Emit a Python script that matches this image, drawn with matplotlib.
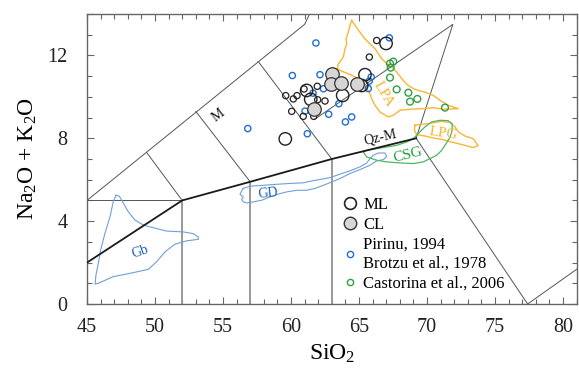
import matplotlib
matplotlib.use("Agg")
import matplotlib.pyplot as plt
from matplotlib.ticker import MultipleLocator
from matplotlib.lines import Line2D

plt.rcParams['font.family'] = ['Liberation Serif', 'DejaVu Serif']
plt.rcParams['mathtext.fontset'] = 'custom'
plt.rcParams['mathtext.rm'] = 'Liberation Serif'
plt.rcParams['mathtext.it'] = 'Liberation Serif:italic'

# ---------------- data ----------------
# TAS field boundaries (SiO2, Na2O+K2O)
thin_lines = [
    [(45, 5), (61, 13.5), (63, 16.2)],
    [(45, 5), (52, 5)],
    [(49.4, 7.3), (52, 5)],
    [(53, 9.3), (57, 5.9)],
    [(57.6, 11.7), (63, 7)],
    [(61.7, 8.9), (71.9, 13.5), (69.2, 8), (77.4, 0), (86, 4)],
]
thick_line = [(45, 2), (52, 5), (57, 5.9), (63, 7), (69.2, 8)]
vertical_lines = [(52, 5), (57, 5.9), (63, 7)]

# outlines of reference fields
gb_x = [47.13, 46.93, 46.69, 46.32, 46.0, 45.83, 45.66, 45.59, 45.83, 46.93, 48.16, 49.5, 50.12,
        50.74, 51.47, 52.33, 53.18, 53.18, 52.8, 52.08, 50.86, 49.76, 49.14, 48.53, 48.04, 47.62, 47.38, 47.13]
gb_y = [5.25, 4.93, 4.21, 3.41, 2.6, 1.96, 1.4, 0.96, 1.0, 1.32, 1.48, 1.67, 2.04,
        2.52, 2.89, 3.05, 3.12, 3.24, 3.4, 3.48, 3.52, 3.7, 3.81, 4.05, 4.45, 4.93, 5.2, 5.25]

gd_x = [56.49, 56.99, 57.96, 58.95, 59.93, 60.9, 61.52, 62.13, 62.87, 63.6, 64.34, 65.07, 65.57, 65.81,
        66.05, 66.42, 66.91, 67.04, 66.79, 66.3, 65.81, 65.07, 64.34, 63.6, 62.99, 62.38, 61.76, 61.15,
        60.42, 59.68, 59.19, 58.46, 57.85, 57.23, 56.74, 56.49, 56.37, 56.49, 56.25, 56.37, 56.49]
gd_y = [5.58, 5.69, 5.73, 5.78, 5.82, 5.85, 5.94, 6.01, 6.1, 6.27, 6.43, 6.62, 6.81, 7.02,
        7.18, 7.29, 7.29, 7.13, 6.97, 6.91, 6.7, 6.49, 6.3, 6.06, 5.89, 5.73, 5.58, 5.49,
        5.49, 5.41, 5.33, 5.17, 5.01, 4.93, 4.88, 4.93, 5.04, 5.17, 5.3, 5.46, 5.58]

lpa_x = [64.46, 64.71, 65.07, 65.44, 65.81, 66.18, 66.42, 66.67, 67.04, 67.4, 67.77, 68.14, 68.51, 69.0,
         69.36, 69.85, 70.46, 70.96, 71.57, 72.3, 71.2, 70.46, 69.73, 68.88, 68.01, 67.52, 67.15, 66.54,
         66.18, 65.93, 65.76, 65.57, 65.32, 64.95, 64.34, 63.73, 63.41, 63.48, 63.85, 63.97, 64.1, 64.04,
         64.21, 64.34, 64.46]
lpa_y = [13.69, 13.45, 13.12, 12.8, 12.56, 12.32, 12.08, 11.84, 11.6, 11.44, 11.2, 10.88, 10.6, 10.4,
         10.31, 10.23, 10.07, 9.83, 9.59, 9.43, 9.4, 9.48, 9.43, 9.41, 9.35, 9.11, 9.03, 9.27,
         9.59, 9.91, 10.23, 10.4, 10.71, 10.88, 11.08, 11.24, 11.36, 11.6, 11.92, 12.32, 12.56, 12.8,
         13.12, 13.45, 13.69]

lpg_x = [69.12, 70.1, 71.08, 71.69, 72.06, 72.3, 72.79, 73.4, 73.75, 73.4, 72.55, 71.82, 71.08, 70.46,
         69.85, 69.24, 69.07, 69.12]
lpg_y = [8.63, 8.71, 8.82, 8.76, 8.55, 8.31, 8.11, 7.98, 7.65, 7.55, 7.7, 7.82, 7.95, 8.01,
         8.11, 8.18, 8.39, 8.63]

csg_x = [65.32, 65.57, 66.3, 67.04, 68.01, 68.99, 69.73, 70.22, 70.71, 71.08, 71.4, 71.7, 71.85, 71.85,
         71.55, 70.96, 70.34, 69.85, 69.36, 68.99, 68.51, 67.77, 67.04, 66.3, 65.57, 65.32]
csg_y = [7.34, 7.1, 6.94, 6.86, 6.81, 6.78, 6.86, 7.02, 7.18, 7.42, 7.74, 8.06, 8.39, 8.71,
         8.85, 8.87, 8.79, 8.55, 8.23, 7.98, 7.82, 7.66, 7.58, 7.5, 7.42, 7.34]

# samples
ml_large_x = [59.58, 61.15, 61.45, 63.8, 65.44, 65.2, 66.99]
ml_large_y = [7.97, 10.31, 9.88, 10.07, 11.07, 10.55, 12.58]
ml_small_x = [59.61, 60.17, 60.44, 60.96, 61.93, 62.5, 60.05, 60.9, 61.67, 61.96, 66.3, 65.76]
ml_small_y = [10.06, 9.9, 10.06, 10.38, 10.51, 9.8, 9.3, 9.06, 9.06, 9.86, 12.72, 11.92]
cl_x = [62.99, 62.93, 63.66, 64.87, 61.72]
cl_y = [11.12, 10.64, 10.67, 10.64, 9.42]
lit_x = [61.83, 60.1, 62.13, 62.39, 61.62, 63.52, 61.03, 62.77, 64.0, 64.46, 56.82, 61.2, 67.23,
         65.9, 65.75, 65.68]
lit_y = [12.6, 11.03, 11.07, 10.39, 10.18, 9.67, 9.31, 9.16, 8.79, 9.03, 8.47, 8.22, 12.85,
         10.96, 10.76, 10.4]
cast_x = [67.52, 67.28, 67.33, 67.28, 67.77, 68.63, 69.29, 68.75, 71.32]
cast_y = [11.7, 11.61, 11.41, 10.93, 10.36, 10.2, 9.9, 9.77, 9.48]

legend_labels = ["ML", "CL", "Pirinu, 1994\nBrotzu et al., 1978", "Castorina et al., 2006"]

# ---------------- figure ----------------
fig = plt.figure(figsize=(5.79, 3.76), dpi=100)
ax = fig.add_axes([87 / 579, 1 - 304 / 376, 489.6 / 579, 290 / 376])
ax.set_xlim(45, 81)
ax.set_ylim(0, 14)

for pl in thin_lines:
    xs, ys = zip(*pl)
    ax.plot(xs, ys, color='#555555', lw=0.7, zorder=2)
xs, ys = zip(*thick_line)
ax.plot(xs, ys, color='#1a1a1a', lw=1.3, zorder=3)
for vx, vtop in vertical_lines:
    ax.plot([vx, vx], [0, vtop], color='#999999', lw=1.4, zorder=2)

ax.plot(gb_x, gb_y, color='#6f9fd8', lw=0.8, zorder=2)
ax.plot(gd_x, gd_y, color='#6f9fd8', lw=0.8, zorder=2)
ax.plot(lpa_x, lpa_y, color='#f7b733', lw=1.0, zorder=2)
ax.plot(lpg_x, lpg_y, color='#f7b733', lw=1.0, zorder=2)
ax.plot(csg_x, csg_y, color='#4cb860', lw=0.9, zorder=2)

ax.scatter(lit_x, lit_y, s=20, facecolors='none', edgecolors='#1f6fd6', linewidths=1.0, zorder=4)
ax.scatter(cast_x, cast_y, s=24, facecolors='none', edgecolors='#2ea043', linewidths=1.0, zorder=4)
ax.scatter(ml_small_x, ml_small_y, s=20, facecolors='none', edgecolors='#222222', linewidths=0.9, zorder=5)
ax.scatter(ml_large_x, ml_large_y, s=80, facecolors='none', edgecolors='#222222', linewidths=1.0, zorder=5)
ax.scatter(cl_x, cl_y, s=95, facecolors='#d6d6d6', edgecolors='#333333', linewidths=0.9, zorder=5)

# field labels
ax.text(54.66, 9.11, "M", fontsize=10, rotation=38, ha='center', va='center', color='#111111')
ax.text(66.6, 8.05, "Qz-M", fontsize=10, rotation=13, ha='center', va='center', color='#111111')
ax.text(66.8, 10.12, "LPA", fontsize=11, rotation=-60, ha='center', va='center', color='#f7b733')
ax.text(71.2, 8.22, "LPG", fontsize=11, rotation=-8, ha='center', va='center', color='#f7b733')
ax.text(68.6, 7.18, "CSG", fontsize=11, rotation=14, ha='center', va='center', color='#1e9a3a')
ax.text(58.33, 5.33, "GD", fontsize=10, rotation=6, ha='center', va='center', color='#1a5fb4')
ax.text(48.9, 2.52, "Gb", fontsize=10, rotation=20, ha='center', va='center', color='#1a5fb4')

# legend
handles = [
    Line2D([], [], ls='none', marker='o', ms=8.5, mfc='none', mec='#222222', mew=1.2),
    Line2D([], [], ls='none', marker='o', ms=9, mfc='#d6d6d6', mec='#333333', mew=1.0),
    Line2D([], [], ls='none', marker='o', ms=4.5, mfc='none', mec='#1f6fd6', mew=1.0),
    Line2D([], [], ls='none', marker='o', ms=4.5, mfc='none', mec='#2ea043', mew=1.0),
]
ax.legend(handles, legend_labels, loc='upper left', bbox_to_anchor=(0.52, 0.37), frameon=False,
          fontsize=12, handletextpad=0.3, labelspacing=0.25, borderpad=0.0, handlelength=1.0,
          borderaxespad=0.0)

# axes styling
ax.xaxis.set_major_locator(MultipleLocator(5))
ax.xaxis.set_minor_locator(MultipleLocator(1))
ax.yaxis.set_major_locator(MultipleLocator(4))
ax.yaxis.set_minor_locator(MultipleLocator(1))
ax.tick_params(which='both', direction='in', top=True, right=True, color='#666666', width=0.8)
ax.tick_params(which='major', length=5, labelsize=14.5, labelcolor='#222222')
ax.tick_params(axis='x', which='major', pad=10)
ax.tick_params(axis='y', which='major', pad=14)
ax.tick_params(which='minor', length=3.5)
for sp in ax.spines.values():
    sp.set_color('#666666')
    sp.set_linewidth(1.0)

ax.set_xlabel(r'SiO$_2$', fontsize=17, labelpad=4)
ax.set_ylabel(r'Na$_2$O + K$_2$O', fontsize=17, labelpad=6)

fig.savefig('out.png', dpi=100)
